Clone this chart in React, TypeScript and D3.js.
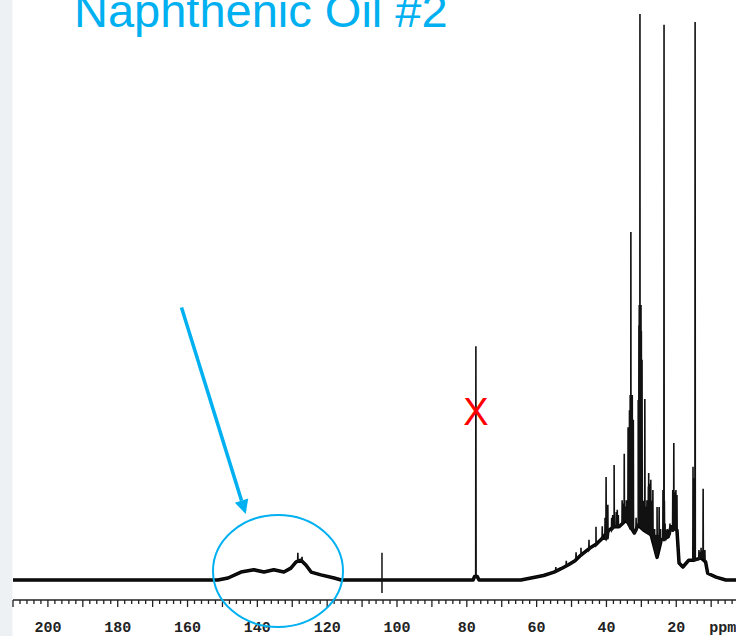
import React from 'react';
import * as d3 from 'd3';

const W = 736;
const H = 636;

const titleText = 'Naphthenic Oil #2';
const tickLabels = [200, 180, 160, 140, 120, 100, 80, 60, 40, 20];
const unitLabel = 'ppm';
const solventMark = 'X';

// broad envelope of the spectrum: [ppm, intensity]
const envelope: [number, number][] = [
  [210, 0], [151.3, 0], [148.4, 0.35], [144.7, 1.4], [141.0, 1.8], [138.1, 1.4],
  [135.3, 1.8], [132.4, 1.4], [130.4, 2.1], [128.9, 3.2], [127.5, 3.5], [126.1, 2.65],
  [124.6, 1.4], [121.8, 0.9], [118.0, 0.35], [116.0, 0],
  [78.2, 0], [77.8, 0.6], [77.0, 0.6], [76.5, 0],
  [64.5, 0], [61.6, 0.35], [58.0, 0.8], [55.0, 1.4], [53.0, 2.0], [51.0, 2.65],
  [49.0, 3.4], [47.3, 4.4], [44.4, 5.8], [43.0, 6.3],
  [41.6, 7.1], [39.3, 8.8], [37.8, 9.4], [36.4, 9.4], [34.3, 10.6], [32.0, 8.3],
  [30.9, 9.7], [29.3, 8.8], [27.2, 8.0], [25.5, 4.0], [24.3, 7.1], [22.4, 7.6],
  [21.5, 9.4], [19.8, 8.8], [19.2, 3.0], [18.1, 2.3], [16.4, 3.5], [14.9, 3.5],
  [12.9, 3.9], [11.6, 3.2], [11.0, 1.2], [8.6, 0.5], [5.8, 0], [2.6, 0],
];

// sharp resonances: [ppm, base intensity, top intensity]
const spikes: [number, number, number][] = [
  [128.4, 3.3, 4.8], [127.2, 3.4, 4.1],
  [77.4, 0.6, 41.3],
  [54.5, 1.5, 2.3], [51.5, 2.5, 3.4], [48.7, 3.9, 4.9], [47.3, 4.4, 5.7], [45.0, 5.3, 7.1],
  [43.0, 6.1, 9.4], [41.2, 7.2, 9.5], [40.4, 7.2, 11.0], [40.1, 7.1, 18.2], [39.9, 7.3, 11.5],
  [39.6, 7.3, 13.3], [38.5, 8.8, 11.0], [38.2, 9.0, 11.5], [37.8, 9.4, 20.3],
  [37.2, 9.4, 12.0], [36.9, 9.4, 12.4], [36.6, 9.4, 11.5], [35.5, 10.0, 14.1],
  [35.2, 10.2, 13.5], [35.0, 10.4, 13.0], [34.9, 10.6, 22.3], [34.7, 10.6, 13.0],
  [34.3, 10.6, 14.1], [33.8, 10.0, 27.0], [33.6, 9.6, 26.0], [33.4, 9.3, 30.0],
  [33.2, 9.0, 32.7], [33.1, 9.0, 31.0], [33.0, 9.0, 61.5], [32.9, 9.0, 31.0],
  [32.8, 9.0, 30.0], [32.6, 9.0, 32.7], [32.3, 8.5, 28.3], [31.5, 8.6, 11.0],
  [30.9, 9.7, 31.8], [30.7, 9.7, 45.0], [30.6, 9.7, 48.6], [30.5, 9.6, 47.0],
  [30.4, 9.5, 100], [30.3, 9.4, 47.0], [30.2, 9.3, 48.0], [30.1, 9.3, 48.6],
  [30.0, 9.2, 44.0], [29.8, 9.0, 38.9], [29.5, 8.9, 14.0], [29.0, 8.8, 32.0],
  [28.7, 8.6, 13.0], [28.4, 8.5, 14.1], [28.0, 8.3, 16.5], [27.9, 8.2, 18.9],
  [27.7, 8.1, 16.0], [27.5, 8.0, 17.0], [27.3, 8.0, 17.7], [27.0, 7.5, 14.0],
  [26.7, 7.0, 15.9], [26.2, 5.5, 9.0], [25.8, 4.5, 8.0], [25.5, 4.5, 12.9],
  [25.2, 5.0, 8.0], [24.9, 6.0, 12.9], [24.5, 6.5, 9.0], [23.8, 7.0, 15.9],
  [23.7, 7.0, 15.0], [23.5, 7.0, 98.1], [23.4, 7.0, 14.0], [23.2, 7.2, 10.0],
  [22.9, 7.3, 8.8], [22.6, 7.5, 9.0], [22.1, 7.6, 8.5], [21.8, 8.0, 10.0],
  [21.0, 8.5, 15.9], [20.9, 8.6, 15.0], [20.7, 9.0, 24.2], [20.5, 9.0, 15.5],
  [20.3, 8.9, 15.0], [20.1, 8.8, 15.9], [19.8, 8.8, 15.0],
  [15.2, 3.5, 20.0], [15.1, 3.5, 18.0], [15.0, 3.5, 17.0], [14.6, 3.5, 98.6],
  [13.5, 3.7, 5.3], [13.2, 3.8, 5.0], [12.9, 3.9, 5.7], [12.7, 3.9, 5.2],
  [12.5, 3.9, 5.0], [12.3, 3.9, 16.1], [12.1, 3.8, 5.2], [11.8, 3.5, 5.3],
];

// vertical marker line: [ppm, bottom intensity, top intensity]
const markers: [number, number, number][] = [[104.3, -2.3, 4.8]];

const BLUE = '#00b0f0';

export default function App() {
  const x = d3.scaleLinear().domain([210, 2.6]).range([13, 737]);
  const y = d3.scaleLinear().domain([0, 100]).range([580, 14]);

  const pts: [number, number][] = [...envelope];
  spikes.forEach(([p, b, t]) => {
    pts.push([p + 0.06, b], [p, t], [p - 0.06, b]);
  });
  pts.sort((a, b) => b[0] - a[0]);

  const line = d3.line<[number, number]>().x((d) => x(d[0])).y((d) => y(d[1]));
  const ticks = d3.range(210, 3, -2);
  const axisY = 600;

  // arrow geometry
  const a0 = [181.5, 307.5];
  const tip = [245.7, 514];
  const dx = tip[0] - a0[0];
  const dy = tip[1] - a0[1];
  const len = Math.hypot(dx, dy);
  const ux = dx / len, uy = dy / len;
  const hl = 14, hw = 7;
  const bc = [tip[0] - hl * ux, tip[1] - hl * uy];
  const head = `${tip[0]},${tip[1]} ${bc[0] + hw * uy},${bc[1] - hw * ux} ${bc[0] - hw * uy},${bc[1] + hw * ux}`;

  return (
    <svg
      width={W}
      height={H}
      style={{ position: 'absolute', left: 0, top: 0, background: '#fff' }}
    >
      <rect x={0} y={0} width={12.5} height={H} fill="#eef1f4" />
      <text
        x={74}
        y={27}
        fontFamily="'Liberation Sans', Arial, sans-serif"
        fontSize={47}
        fill={BLUE}
      >
        {titleText}
      </text>

      <path d={line(envelope) || ''} fill="none" stroke="#000" strokeWidth={3.5} strokeLinejoin="round" />
      <path d={line(pts) || ''} fill="none" stroke="#111" strokeWidth={1.6} strokeLinejoin="miter" />
      {markers.map(([p, b, t], i) => (
        <line key={i} x1={x(p)} x2={x(p)} y1={y(b)} y2={y(t)} stroke="#111" strokeWidth={1.5} />
      ))}

      <line x1={13} x2={W} y1={axisY} y2={axisY} stroke="#222" strokeWidth={1.5} />
      {ticks.map((t) => (
        <line
          key={t}
          x1={x(t)}
          x2={x(t)}
          y1={axisY}
          y2={axisY + (t % 10 === 0 ? 7 : 4)}
          stroke="#222"
          strokeWidth={1.3}
        />
      ))}
      {tickLabels.map((t) => (
        <text
          key={t}
          x={x(t)}
          y={632}
          textAnchor="middle"
          fontFamily="'Liberation Mono', 'DejaVu Sans Mono', monospace"
          fontWeight="bold"
          fontSize={15}
          fill="#222"
        >
          {t}
        </text>
      ))}
      <text
        x={x(20) + 33}
        y={632}
        fontFamily="'Liberation Mono', 'DejaVu Sans Mono', monospace"
        fontWeight="bold"
        fontSize={15}
        fill="#222"
      >
        {unitLabel}
      </text>

      <text
        x={x(77.4)}
        y={425}
        textAnchor="middle"
        fontFamily="'Liberation Sans', Arial, sans-serif"
        fontSize={38}
        fill="#ff0000"
      >
        {solventMark}
      </text>

      <line x1={a0[0]} y1={a0[1]} x2={bc[0]} y2={bc[1]} stroke={BLUE} strokeWidth={3.5} />
      <polygon points={head} fill={BLUE} />
      <ellipse cx={278} cy={571} rx={65} ry={56} fill="none" stroke={BLUE} strokeWidth={2} />
    </svg>
  );
}
